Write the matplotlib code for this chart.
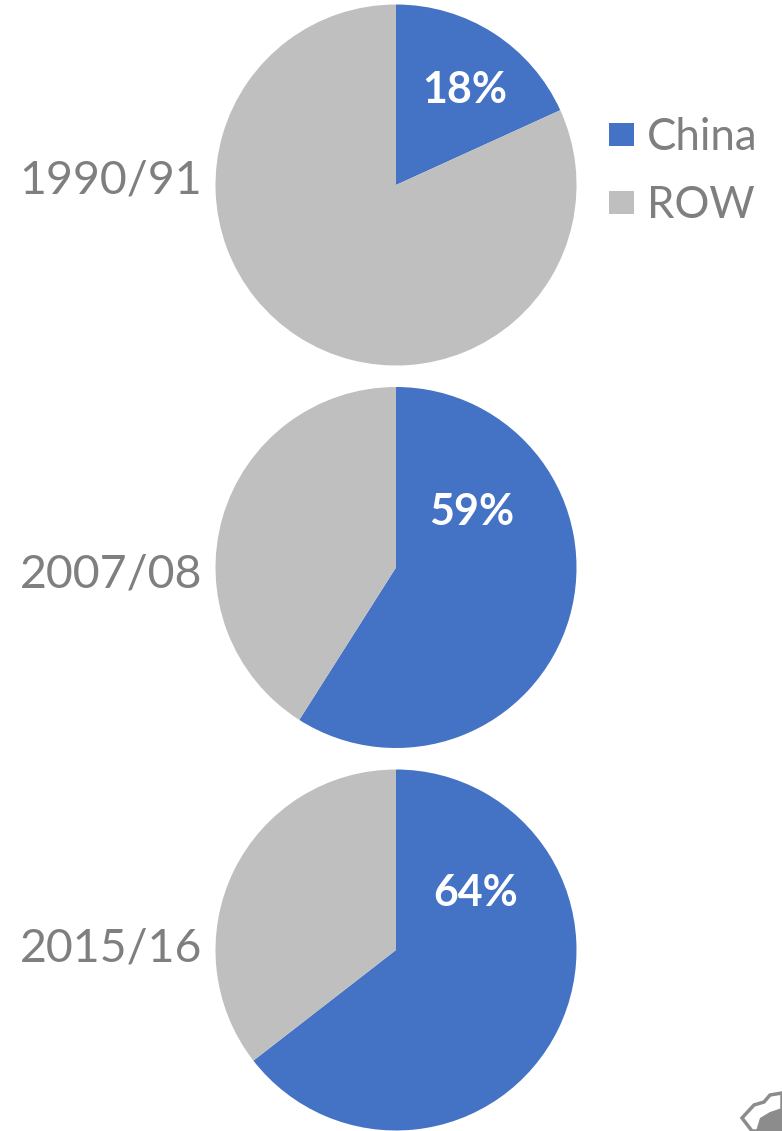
import matplotlib
matplotlib.use("Agg")
import matplotlib.pyplot as plt
from matplotlib.patches import Patch, Polygon

W, H = 782, 1131
years = ["1990/91", "2007/08", "2015/16"]
china = [18.2, 59, 64.5]
row = [81.8, 41, 35.5]
shown = [18, 59, 64]
series = ["China", "ROW"]
colors = ["#4472C4", "#BFBFBF"]
centers_y = [185, 567.5, 950]
label_y = [181, 574, 948]
pct_y = [90, 512, 893]
pct_x = [464.5, 472, 476]
R = 180.5
FONT = "Lato"

fig = plt.figure(figsize=(W / 100, H / 100), dpi=100, facecolor="white")

for yr, c, r, s, cy, ly, py, px in zip(years, china, row, shown, centers_y, label_y, pct_y, pct_x):
    ax = fig.add_axes([(396 - R) / W, 1 - (cy + R) / H, 2 * R / W, 2 * R / H])
    ax.pie([c, r], colors=colors, startangle=90, counterclock=False, radius=1)
    ax.set_xlim(-1, 1)
    ax.set_ylim(-1, 1)
    ax.set_aspect("equal")
    ax.axis("off")
    fig.text(px / W, 1 - py / H, f"{s}%", color="white", fontsize=31, fontweight="bold",
             family=FONT, ha="center", va="center")
    fig.text(202 / W, 1 - ly / H, yr, color="#7F7F7F", fontsize=33.5, family=FONT,
             ha="right", va="center")

handles = [Patch(facecolor=col, edgecolor="none") for col in colors]
fig.legend(handles, series, loc="upper left", bbox_to_anchor=(609 / W, 1 - 117 / H),
           frameon=False, prop={"family": FONT, "size": 31.5}, labelcolor="#7F7F7F",
           handlelength=0.57, handleheight=0.46, handletextpad=0.30, labelspacing=0.62,
           borderpad=0, borderaxespad=0)

# cropped logo mark in the bottom-right corner of the source image
logo = [(742, 1118), (754, 1105), (764, 1102), (770, 1095), (782, 1093), (782, 1131), (752, 1131)]
fig.add_artist(Polygon([(x / W, 1 - y / H) for x, y in logo], closed=True,
                       transform=fig.transFigure, facecolor="white",
                       edgecolor="#8C8C8C", linewidth=2.5))
fig.add_artist(Polygon([(x / W, 1 - y / H) for x, y in
                        [(756, 1131), (760, 1118), (770, 1112), (782, 1108), (782, 1131)]],
                       closed=True, transform=fig.transFigure, facecolor="#8C8C8C",
                       edgecolor="none"))

fig.savefig("out.png", dpi=100, facecolor="white")
